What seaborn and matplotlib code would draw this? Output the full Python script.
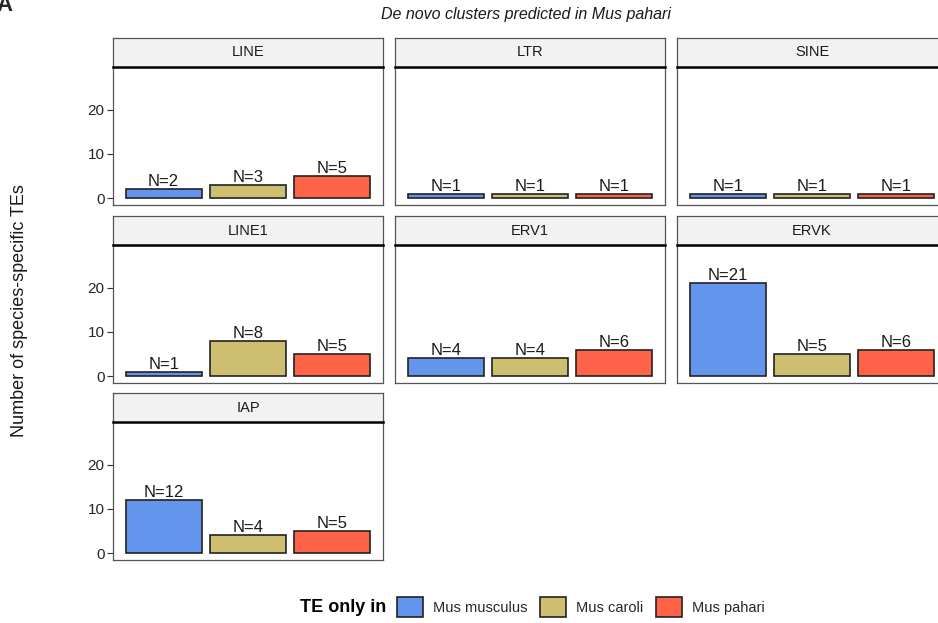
import matplotlib
matplotlib.use("Agg")
import matplotlib.pyplot as plt
from matplotlib.patches import Patch
import seaborn as sns
import pandas as pd

# ---- data ----
families = ["LINE", "LTR", "SINE", "LINE1", "ERV1", "ERVK", "IAP"]
species = ["Mus musculus", "Mus caroli", "Mus pahari"]
counts_LINE = [2, 3, 5]
counts_LTR = [1, 1, 1]
counts_SINE = [1, 1, 1]
counts_LINE1 = [1, 8, 5]
counts_ERV1 = [4, 4, 6]
counts_ERVK = [21, 5, 6]
counts_IAP = [12, 4, 5]
yticks = [0, 10, 20]
palette = {"Mus musculus": "#6495ED", "Mus caroli": "#CDBE70", "Mus pahari": "#FF6347"}

all_counts = [counts_LINE, counts_LTR, counts_SINE, counts_LINE1,
              counts_ERV1, counts_ERVK, counts_IAP]
rows = []
for fam, cnts in zip(families, all_counts):
    for sp, c in zip(species, cnts):
        rows.append({"family": fam, "species": sp, "n": c})
df = pd.DataFrame(rows)

sns.set_theme(style="white")
plt.rcParams["font.family"] = ["Liberation Sans", "DejaVu Sans"]

W, H = 938, 623
fig = plt.figure(figsize=(W / 100, H / 100), dpi=100)

col_x = [113, 395, 677]
panel_w = 270
row_top = [67, 245, 422]
panel_h = 138
strip_h = 29

def frac(x0, y0, w, h):
    return [x0 / W, 1 - (y0 + h) / H, w / W, h / H]

for i, fam in enumerate(families):
    r, c = divmod(i, 3)
    x0 = col_x[c]
    y0 = row_top[r]
    ax = fig.add_axes(frac(x0, y0, panel_w, panel_h))
    sub = df[df["family"] == fam]
    sns.barplot(data=sub, x="species", y="n", hue="species", order=species,
                hue_order=species, palette=palette, width=0.9, dodge=False,
                saturation=1, edgecolor="#222222", linewidth=1.2, legend=False, ax=ax)
    for xi, v in enumerate(sub["n"].tolist()):
        ax.text(xi, v, f"N={v}", ha="center", va="bottom",
                fontsize=12, color="#1a1a1a")
    ax.set_xlim(-0.6, 2.6)
    ax.set_ylim(-1.55, 29.7)
    ax.set_xlabel("")
    ax.set_ylabel("")
    ax.set_xticks([])
    for s in ax.spines.values():
        s.set_color("#555555")
        s.set_linewidth(0.9)
    if c == 0:
        ax.set_yticks(yticks)
        ax.tick_params(axis="y", left=True, length=4, width=0.8, color="#333333",
                       labelsize=11, labelcolor="#262626", pad=2)
    else:
        ax.set_yticks([])
    # strip
    sax = fig.add_axes(frac(x0, y0 - strip_h, panel_w, strip_h))
    sax.set_facecolor("#F2F2F2")
    sax.set_xticks([])
    sax.set_yticks([])
    for s in sax.spines.values():
        s.set_color("#555555")
        s.set_linewidth(0.9)
    sax.spines["bottom"].set_color("black")
    sax.spines["bottom"].set_linewidth(1.8)
    sax.text(0.5, 0.5, fam, ha="center", va="center", fontsize=10.5,
             color="#1a1a1a", transform=sax.transAxes)

fig.text(526 / W, 1 - 15 / H, "De novo clusters predicted in Mus pahari",
         ha="center", va="center", fontsize=11.5, style="italic", color="#1a1a1a")
fig.text(20 / W, 1 - 311 / H, "Number of species-specific TEs", rotation=90,
         ha="center", va="center", fontsize=13, color="#1a1a1a")
fig.text(-0.004, 1.008, "A", ha="left", va="top", fontsize=16, fontweight="bold")

# legend
fig.text(386 / W, 1 - 607 / H, "TE only in", ha="right", va="center",
         fontsize=13, fontweight="bold", color="black")
handles = [Patch(facecolor=palette[s], edgecolor="#222222", linewidth=1.2, label=s)
           for s in species]
fig.legend(handles=handles, loc="center left", bbox_to_anchor=(397 / W, 1 - 607 / H),
           ncol=3, frameon=False, fontsize=10.5, handlelength=1.75, handleheight=1.75,
           handletextpad=0.7, columnspacing=0.9, borderaxespad=0, borderpad=0)

fig.savefig("out.png", dpi=100)
